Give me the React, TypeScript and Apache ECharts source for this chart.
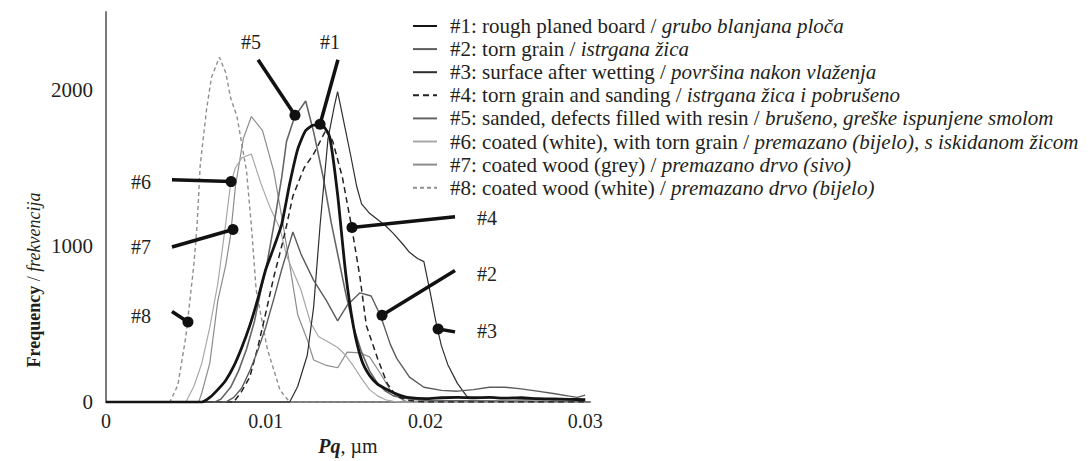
import React, { useEffect, useRef } from "react";
import * as echarts from "echarts";

const FONT = "Liberation Serif";

const seriesNames = ["#1", "#2", "#3", "#4", "#5", "#6", "#7", "#8"];
const legendPlain = [
  "#1: rough planed board / ",
  "#2: torn grain / ",
  "#3: surface after wetting / ",
  "#4: torn grain and sanding / ",
  "#5: sanded, defects filled with resin / ",
  "#6: coated (white), with torn grain / ",
  "#7: coated wood (grey) / ",
  "#8: coated wood (white) / ",
];
const legendItalic = [
  "grubo blanjana ploča",
  "istrgana žica",
  "površina nakon vlaženja",
  "istrgana žica i pobrušeno",
  "brušeno, greške ispunjene smolom",
  "premazano (bijelo), s iskidanom žicom",
  "premazano drvo (sivo)",
  "premazano drvo (bijelo)",
];

const xTicks = [0, 0.01, 0.02, 0.03];
const yTicks = [0, 1000, 2000];

const s1: number[][] = [
  [0, 0], [0.006, 0], [0.0065, 30], [0.007, 80], [0.0075, 140], [0.008, 230], [0.0085, 350],
  [0.009, 490], [0.0095, 660], [0.01, 850], [0.0105, 990], [0.011, 1140], [0.0115, 1400],
  [0.012, 1620], [0.0125, 1740], [0.013, 1775], [0.0135, 1775], [0.014, 1700], [0.0145, 1330],
  [0.015, 830], [0.0155, 480], [0.016, 270], [0.0165, 170], [0.017, 115], [0.0175, 85],
  [0.018, 60], [0.0185, 40], [0.019, 28], [0.02, 22], [0.021, 28], [0.022, 30], [0.023, 28],
  [0.024, 30], [0.025, 25], [0.026, 28], [0.027, 22], [0.028, 20], [0.029, 18], [0.03, 15],
];
const s2: number[][] = [
  [0, 0], [0.0075, 0], [0.008, 30], [0.0085, 90], [0.009, 200], [0.0095, 330], [0.01, 480],
  [0.0105, 660], [0.011, 850], [0.0117, 1090], [0.0122, 950], [0.013, 780], [0.0138, 650],
  [0.0145, 520], [0.0151, 620], [0.0159, 700], [0.0166, 680], [0.0172, 550], [0.0178, 370],
  [0.0182, 280], [0.019, 160], [0.0199, 95], [0.021, 75], [0.022, 70], [0.023, 80],
  [0.024, 95], [0.025, 95], [0.026, 85], [0.027, 70], [0.028, 55], [0.029, 38], [0.0295, 30],
  [0.03, 45],
];
const s3: number[][] = [
  [0, 0], [0.0115, 0], [0.012, 100], [0.0126, 300], [0.013, 610], [0.0134, 1130],
  [0.0139, 1690], [0.0143, 1900], [0.0145, 1990], [0.0149, 1790], [0.0153, 1590],
  [0.0157, 1380], [0.016, 1270], [0.0165, 1210], [0.017, 1170], [0.0175, 1130], [0.018, 1080],
  [0.0186, 1010], [0.019, 960], [0.0195, 920], [0.0199, 900], [0.0203, 700], [0.0207, 490],
  [0.021, 360], [0.0214, 240], [0.022, 120], [0.0226, 35], [0.023, 25], [0.024, 30],
  [0.025, 25], [0.026, 20], [0.028, 20], [0.03, 15],
];
const s4: number[][] = [
  [0, 0], [0.008, 0], [0.0085, 70], [0.009, 160], [0.0095, 350], [0.01, 570], [0.0105, 800],
  [0.011, 1000], [0.0113, 1130], [0.0117, 1320], [0.0124, 1500], [0.013, 1590], [0.0135, 1690],
  [0.0138, 1750], [0.0142, 1670], [0.0148, 1440], [0.0154, 1110], [0.0159, 800], [0.0163, 490],
  [0.017, 280], [0.0176, 120], [0.0182, 35], [0.019, 10], [0.02, 0], [0.03, 0],
];
const s5: number[][] = [
  [0, 0], [0.0068, 0], [0.0072, 20], [0.0078, 95], [0.0083, 200], [0.0088, 340], [0.0093, 520],
  [0.0097, 720], [0.0101, 900], [0.0105, 1130], [0.011, 1440], [0.0113, 1670], [0.0118, 1826],
  [0.0125, 1930], [0.013, 1730], [0.0136, 1440], [0.0141, 1150], [0.0145, 950], [0.015, 700],
  [0.0155, 480], [0.016, 320], [0.0165, 200], [0.017, 120], [0.0175, 70], [0.018, 40],
  [0.019, 20], [0.02, 10], [0.03, 5],
];
const s6: number[][] = [
  [0, 0], [0.005, 0], [0.0055, 100], [0.006, 250], [0.0065, 480], [0.007, 760], [0.0075, 1150],
  [0.0078, 1400], [0.0081, 1500], [0.0085, 1565], [0.0091, 1590], [0.0097, 1400],
  [0.0103, 1240], [0.0109, 1110], [0.0113, 940], [0.0122, 720], [0.0128, 510], [0.0133, 420],
  [0.014, 380], [0.0145, 350], [0.015, 300], [0.0155, 230], [0.016, 150], [0.0165, 80],
  [0.017, 40], [0.0175, 15], [0.018, 5], [0.0185, 0], [0.03, 0],
];
const s7: number[][] = [
  [0, 0], [0.0058, 0], [0.006, 60], [0.0065, 250], [0.007, 650], [0.0075, 880], [0.0078, 1070],
  [0.0081, 1380], [0.0086, 1690], [0.0091, 1830], [0.0098, 1740], [0.0105, 1480], [0.011, 1190],
  [0.0115, 880], [0.012, 560], [0.0126, 400], [0.013, 270], [0.0138, 235], [0.0145, 220],
  [0.0151, 320], [0.0159, 315], [0.0165, 290], [0.0172, 180], [0.0178, 75], [0.0186, 12],
  [0.019, 0], [0.03, 0],
];
const s8: number[][] = [
  [0, 0], [0.004, 0], [0.0045, 110], [0.005, 420], [0.0055, 880], [0.0057, 1130],
  [0.0059, 1520], [0.0063, 1880], [0.0066, 2080], [0.0071, 2210], [0.0075, 2110],
  [0.0078, 1950], [0.0082, 1830], [0.0088, 1480], [0.0091, 1130], [0.0094, 720],
  [0.0101, 340], [0.0109, 75], [0.0115, 0], [0.03, 0],
];
const seriesData = [s1, s2, s3, s4, s5, s6, s7, s8];

// callouts: dot (x,y), line end (x,y), label centre (x,y) in data units
const calloutLabels = ["#5", "#1", "#6", "#7", "#8", "#4", "#2", "#3"];
const calloutDots = [
  [0.01183, 1838], [0.0134, 1781], [0.00783, 1413], [0.00795, 1106],
  [0.00513, 513], [0.0154, 1119], [0.01728, 556], [0.02079, 469],
];
const calloutEnds = [
  [0.00952, 2194], [0.01452, 2194], [0.00413, 1425], [0.00413, 994],
  [0.00413, 581], [0.02185, 1188], [0.02185, 844], [0.02185, 450],
];
const calloutText = [
  [0.00908, 2306], [0.01402, 2306], [0.00219, 1413], [0.00219, 994],
  [0.00219, 550], [0.02385, 1181], [0.02385, 819], [0.02385, 456],
];

const lineStyles = [
  { color: "#141414", width: 2.8, type: "solid" },
  { color: "#5c5c5c", width: 1.4, type: "solid" },
  { color: "#2e2e2e", width: 1.2, type: "solid" },
  { color: "#222222", width: 1.5, type: [6, 4] },
  { color: "#666666", width: 1.6, type: "solid" },
  { color: "#a8a8a8", width: 1.2, type: "solid" },
  { color: "#8c8c8c", width: 1.2, type: "solid" },
  { color: "#8f8f8f", width: 1.4, type: [4, 3] },
];

const TXT = "#231f20";

export default function App() {
  const ref = useRef<HTMLDivElement>(null);
  useEffect(() => {
    if (!ref.current) return;
    const chart = echarts.init(ref.current, null, { renderer: "svg" });
    const lineSeries = seriesData.map((d, i) => ({
      name: seriesNames[i],
      type: "line",
      data: d,
      symbol: "none",
      showSymbol: false,
      smooth: i === 0 ? 0.2 : false,
      z: 10 - i,
      lineStyle: { ...lineStyles[i] },
      itemStyle: { color: lineStyles[i].color },
    }));
    const calloutRows = calloutDots.map((d, i) => [
      d[0], d[1], calloutEnds[i][0], calloutEnds[i][1], calloutText[i][0], calloutText[i][1],
    ]);
    chart.setOption({
      animation: false,
      backgroundColor: "#ffffff",
      textStyle: { fontFamily: FONT },
      grid: { left: 106, right: 502, top: 12, bottom: 49, containLabel: false },
      legend: {
        orient: "vertical",
        left: 412,
        top: 15.5,
        padding: 0,
        itemWidth: 24,
        itemHeight: 14,
        itemGap: 2.1,
        selectedMode: false,
        itemStyle: { opacity: 0 },
        data: seriesNames,
        formatter: (name: string) => {
          const i = seriesNames.indexOf(name);
          return legendPlain[i] + "{i|" + legendItalic[i] + "}";
        },
        textStyle: {
          fontFamily: FONT,
          fontSize: 21,
          color: TXT,
          lineHeight: 21,
          padding: [0, 0, 0, 8],
          rich: {
            i: { fontFamily: FONT, fontSize: 21, fontStyle: "italic", color: TXT, lineHeight: 21 },
          },
        },
      },
      xAxis: {
        type: "value",
        min: 0,
        max: 0.0303,
        interval: 0.01,
        name: "{b|Pq}, µm",
        nameLocation: "middle",
        nameGap: 31,
        nameTextStyle: {
          fontFamily: FONT,
          fontSize: 20,
          color: TXT,
          rich: { b: { fontFamily: FONT, fontSize: 20, fontWeight: "bold", fontStyle: "italic", color: TXT } },
        },
        axisLine: { show: true, lineStyle: { color: "#7a7a7a", width: 2 } },
        axisTick: { show: false },
        splitLine: { show: false },
        axisLabel: {
          showMaxLabel: false,
          margin: 9,
          fontFamily: FONT,
          fontSize: 20,
          color: TXT,
          formatter: (v: number) => {
            const t = xTicks.find((x) => Math.abs(x - v) < 1e-7);
            return t === undefined ? "" : String(t);
          },
        },
      },
      yAxis: {
        type: "value",
        min: 0,
        max: 2500,
        interval: 1000,
        axisLine: { show: true, lineStyle: { color: "#7a7a7a", width: 2 } },
        axisTick: { show: false },
        splitLine: { show: false },
        axisLabel: {
          showMaxLabel: false,
          margin: 13,
          fontFamily: FONT,
          fontSize: 21,
          color: TXT,
          formatter: (v: number) => (yTicks.indexOf(v) >= 0 ? String(v) : ""),
        },
      },
      graphic: [
        {
          type: "text",
          x: 34,
          y: 280,
          rotation: Math.PI / 2,
          style: {
            text: "{b|Frequency} / {i|frekvencija}",
            fontFamily: FONT,
            fontSize: 18,
            fill: TXT,
            align: "center",
            verticalAlign: "middle",
            rich: {
              b: { fontFamily: FONT, fontSize: 18, fontWeight: "bold", fill: TXT },
              i: { fontFamily: FONT, fontSize: 18, fontStyle: "italic", fill: TXT },
            },
          },
        },
      ],
      series: [
        ...lineSeries,
        {
          name: "callouts",
          type: "custom",
          clip: false,
          z: 20,
          silent: true,
          dimensions: ["x1", "y1", "x2", "y2", "x3", "y3"],
          encode: { x: [0, 2, 4], y: [1, 3, 5] },
          data: calloutRows,
          renderItem: (params: any, api: any) => {
            const p1 = api.coord([api.value(0), api.value(1)]);
            const p2 = api.coord([api.value(2), api.value(3)]);
            const p3 = api.coord([api.value(4), api.value(5)]);
            return {
              type: "group",
              children: [
                {
                  type: "line",
                  shape: { x1: p1[0], y1: p1[1], x2: p2[0], y2: p2[1] },
                  style: { stroke: "#111111", lineWidth: 3.5 },
                },
                {
                  type: "circle",
                  shape: { cx: p1[0], cy: p1[1], r: 5.5 },
                  style: { fill: "#111111" },
                },
                {
                  type: "text",
                  x: p3[0],
                  y: p3[1],
                  style: {
                    text: calloutLabels[params.dataIndex],
                    fontFamily: FONT,
                    fontSize: 20,
                    fill: TXT,
                    align: "center",
                    verticalAlign: "middle",
                  },
                },
              ],
            };
          },
        },
      ],
    });
    return () => chart.dispose();
  }, []);
  return (
    <div
      ref={ref}
      style={{ position: "fixed", left: 0, top: 0, width: 1092, height: 461, background: "#fff" }}
    />
  );
}
